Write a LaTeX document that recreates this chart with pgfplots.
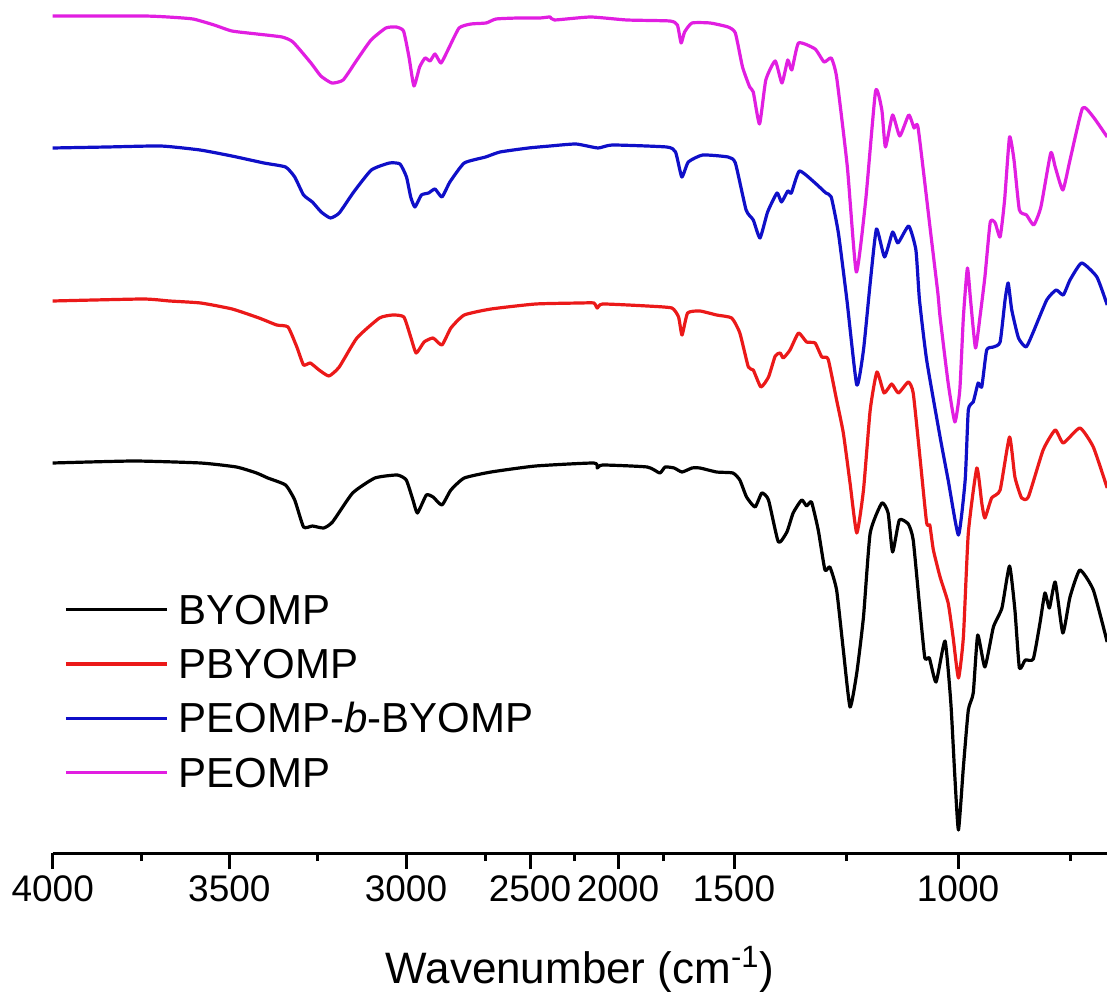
\documentclass[border=0pt]{standalone}
\usepackage{fontspec}
\setmainfont{Liberation Sans}
\usepackage{pgfplots}
\pgfplotsset{compat=1.18}
\definecolor{cred}{RGB}{235,25,25}
\definecolor{cblue}{RGB}{15,15,200}
\definecolor{cmag}{RGB}{225,30,225}
\begin{document}
\begin{tikzpicture}
\begin{axis}[
  at={(0,0)}, anchor=south west,
  x=0.5pt, y=0.5pt,
  x coord trafo/.code={\pgfmathparse{#1>=3000 ? 52.7+(4000-#1)*0.3533 : (#1>=2500 ? 406+(3000-#1)*0.248 : (#1>=2000 ? 530+(2500-#1)*0.176 : (#1>=1500 ? 618+(2000-#1)*0.232 : 734+(1500-#1)*0.448)))}},
  xmin=4000, xmax=667, ymin=-853, ymax=0,
  axis x line*=bottom, axis y line=none,
  axis line style={line width=1.5pt},
  tick style={black, line width=1.5pt},
  tick align=outside,
  major tick length=8pt, minor tick length=4pt,
  xtick={4000,3500,3000,2500,2000,1500,1000},
  xticklabels={4000,3500,3000,2500,2000,1500,1000},
  minor xtick={3750,3250,2680,2250,1805,1250,750},
  ytick=\empty,
  /pgf/number format/assume math mode=true,
  tick label style={font=\fontsize{18.5}{20}\selectfont},
  xlabel={Wavenumber (cm\textsuperscript{-1})},
  xlabel style={font=\fontsize{22}{26}\selectfont, at={(axis description cs:0.5,0)}, anchor=base, yshift=-65pt},
  legend cell align=left,
  legend style={draw=none, fill=none, at={(0.0107,0.3027)}, anchor=north west,
    font=\fontsize{21}{25}\selectfont, inner sep=0pt, row sep=12.7pt, /tikz/column sep=5pt,
    nodes={inner sep=0pt, text height=14.5pt, text depth=0pt}},
  legend image code/.code={\draw[#1] (0pt,0pt) -- (50.5pt,0pt);},
  every axis plot/.append style={line width=1.6pt, line join=round, smooth, tension=0.3},
]
\addplot[black] coordinates {(4000,-463) (3770,-461) (3581,-463) (3480,-467) (3423,-473) (3391,-478) (3341,-485) (3315,-500) (3290,-527) (3265,-526) (3233,-528) (3208,-522) (3151,-493) (3088,-478) (3025,-475) (2999,-480) (2972,-500) (2954,-513) (2918,-495) (2891,-497) (2855,-505) (2819,-490) (2765,-478) (2657,-472) (2468,-466) (2137,-463) (2118,-468) (2087,-465) (1874,-467) (1820,-473) (1797,-467) (1758,-468) (1724,-472) (1681,-468) (1647,-468) (1575,-472) (1505,-473) (1487,-480) (1472,-497) (1453,-507) (1438,-493) (1423,-500) (1401,-542) (1382,-532) (1368,-513) (1349,-500) (1338,-506) (1327,-502) (1312,-530) (1297,-570) (1286,-567) (1271,-590) (1256,-650) (1241,-707) (1226,-673) (1211,-617) (1196,-533) (1170,-503) (1156,-513) (1146,-552) (1131,-520) (1111,-524) (1100,-540) (1085,-610) (1074,-658) (1064,-658) (1049,-682) (1029,-641) (1016,-703) (1007,-777) (999,-830) (988,-767) (977,-710) (966,-693) (956,-635) (940,-667) (921,-627) (902,-608) (885,-566) (873,-610) (863,-668) (850,-660) (832,-659) (817,-623) (806,-593) (796,-608) (783,-582) (766,-633) (750,-597) (728,-570) (698,-590) (667,-642)};
\addlegendentry{BYOMP}
\addplot[cred] coordinates {(4000,-301) (3745,-299) (3669,-301) (3581,-303) (3492,-309) (3416,-318) (3366,-325) (3334,-327) (3309,-347) (3290,-365) (3271,-363) (3246,-370) (3218,-376) (3189,-367) (3139,-338) (3075,-318) (3037,-315) (3006,-317) (2981,-337) (2959,-353) (2927,-342) (2891,-338) (2855,-345) (2819,-328) (2765,-315) (2657,-309) (2468,-304) (2214,-303) (2137,-303) (2118,-308) (2087,-304) (1874,-306) (1768,-308) (1739,-317) (1724,-335) (1700,-313) (1647,-311) (1575,-315) (1510,-318) (1487,-333) (1468,-367) (1457,-370) (1440,-387) (1423,-377) (1408,-356) (1397,-353) (1390,-358) (1375,-350) (1356,-333) (1338,-342) (1319,-343) (1304,-357) (1290,-359) (1271,-400) (1256,-433) (1241,-483) (1226,-533) (1211,-490) (1196,-410) (1181,-372) (1165,-393) (1148,-384) (1133,-393) (1111,-382) (1100,-393) (1085,-457) (1070,-523) (1063,-525) (1055,-550) (1040,-577) (1022,-603) (1011,-637) (999,-678) (988,-637) (977,-533) (958,-468) (947,-503) (940,-518) (925,-498) (906,-490) (885,-437) (873,-477) (858,-498) (843,-497) (810,-450) (783,-430) (765,-443) (728,-428) (698,-447) (667,-488)};
\addlegendentry{PBYOMP}
\addplot[cblue] coordinates {(4000,-148) (3846,-147) (3694,-146) (3583,-150) (3493,-156) (3402,-163) (3341,-167) (3315,-177) (3290,-195) (3265,-202) (3240,-212) (3214,-218) (3189,-213) (3148,-192) (3098,-170) (3047,-163) (3017,-164) (2998,-177) (2981,-197) (2964,-207) (2938,-195) (2909,-193) (2883,-189) (2855,-197) (2823,-182) (2765,-163) (2679,-157) (2621,-152) (2506,-148) (2386,-146) (2239,-144) (2114,-148) (2032,-145) (1790,-147) (1752,-152) (1725,-177) (1697,-162) (1635,-155) (1526,-157) (1497,-163) (1473,-210) (1457,-220) (1442,-238) (1425,-212) (1404,-193) (1394,-202) (1380,-191) (1372,-193) (1354,-171) (1319,-183) (1295,-193) (1283,-197) (1267,-233) (1248,-300) (1226,-385) (1211,-350) (1196,-283) (1182,-229) (1164,-257) (1146,-232) (1134,-243) (1110,-226) (1094,-250) (1086,-300) (1070,-360) (1040,-437) (1022,-480) (999,-535) (984,-480) (977,-410) (966,-402) (955,-383) (947,-387) (936,-350) (921,-347) (906,-342) (895,-300) (888,-283) (880,-310) (865,-338) (848,-347) (832,-332) (802,-300) (781,-290) (765,-295) (750,-280) (724,-263) (690,-277) (667,-305)};
\addlegendentry{PEOMP-\textit{b}-BYOMP}
\addplot[cmag] coordinates {(4000,-16) (3744,-16) (3674,-17) (3603,-19) (3543,-25) (3493,-31) (3422,-34) (3351,-37) (3320,-42) (3269,-63) (3241,-76) (3210,-83) (3178,-80) (3139,-60) (3099,-40) (3057,-28) (3028,-27) (3007,-31) (2988,-57) (2968,-86) (2945,-67) (2923,-58) (2903,-61) (2883,-54) (2859,-63) (2831,-50) (2786,-28) (2738,-24) (2677,-23) (2637,-19) (2548,-18) (2443,-18) (2386,-17) (2361,-20) (2156,-17) (1962,-20) (1776,-21) (1744,-25) (1728,-43) (1713,-32) (1681,-23) (1603,-23) (1526,-27) (1497,-33) (1481,-67) (1465,-87) (1457,-92) (1443,-124) (1429,-80) (1408,-61) (1393,-83) (1380,-60) (1371,-70) (1356,-43) (1319,-49) (1299,-62) (1283,-58) (1271,-77) (1247,-167) (1227,-272) (1206,-200) (1184,-91) (1170,-110) (1162,-147) (1146,-115) (1130,-136) (1110,-115) (1098,-128) (1089,-128) (1061,-233) (1045,-293) (1040,-317) (1022,-383) (1007,-422) (996,-390) (988,-317) (979,-268) (972,-300) (961,-348) (951,-317) (940,-277) (928,-222) (917,-223) (906,-237) (896,-200) (885,-137) (875,-160) (863,-210) (847,-215) (831,-225) (815,-207) (793,-153) (783,-167) (766,-190) (750,-160) (722,-108) (698,-117) (667,-137)};
\addlegendentry{PEOMP}
\end{axis}
\pgfresetboundingbox
\path[use as bounding box] (-26.35pt,-69pt) rectangle (527.15pt,426.5pt);
\end{tikzpicture}
\end{document}
